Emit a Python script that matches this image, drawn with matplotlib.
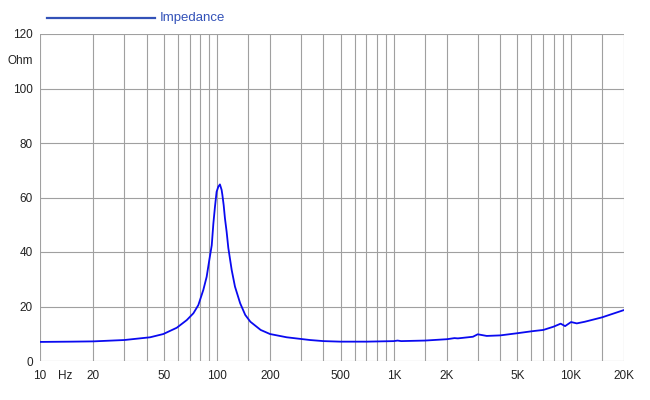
import numpy as np
import matplotlib.pyplot as plt
from matplotlib.lines import Line2D
import matplotlib.transforms as mtransforms

plt.rcParams['font.family'] = ['Liberation Sans', 'DejaVu Sans']

# impedance curve
freq = [10, 15, 20, 30, 41.9, 49.8, 59.3, 67.5, 73.6, 78.5, 83.8, 87.5,
        90.6, 93.5, 95.5, 97.5, 99.6, 101.9, 104, 106.3, 107.4, 109.2, 111,
        113.5, 116, 121.2, 126.5, 135.3, 144.6, 154.6, 176.7, 199.6, 248,
        335.6, 400, 500, 700, 1000, 1050, 1100, 1500, 2000, 2200, 2300, 2800,
        2980, 3350, 4000, 5000, 6000, 7000, 8000, 8770, 9290, 10040, 10820,
        12000, 15000, 20000]
ohm = [7.0, 7.1, 7.2, 7.7, 8.7, 9.9, 12.2, 15.0, 17.5, 20.5, 26.1, 30.9,
       37.1, 42.5, 50.5, 56.6, 62.1, 64.0, 64.8, 62.8, 60.9, 57.2, 52.4,
       47.4, 41.5, 33.4, 27.3, 21.2, 16.9, 14.4, 11.4, 9.9, 8.7, 7.7, 7.3,
       7.1, 7.1, 7.3, 7.5, 7.3, 7.5, 8.0, 8.4, 8.3, 8.9, 9.8, 9.2, 9.4, 10.2,
       10.9, 11.4, 12.6, 13.7, 12.8, 14.3, 13.8, 14.4, 16.0, 18.7]

grid_freqs = [10, 20, 30, 40, 50, 60, 70, 80, 90, 100, 150, 200, 300, 400,
              500, 600, 700, 800, 900, 1000, 1500, 2000, 3000, 4000, 5000,
              6000, 7000, 8000, 9000, 10000, 15000, 20000]
labelled = {10: '10', 20: '20', 50: '50', 100: '100', 200: '200', 500: '500',
            1000: '1K', 2000: '2K', 5000: '5K', 10000: '10K', 20000: '20K'}
y_ticks = [0, 20, 40, 60, 80, 100, 120]

fig = plt.figure(figsize=(6.5, 4), dpi=100)
ax = fig.add_axes([40 / 650, 1 - 361 / 400, 584 / 650, 327 / 400])

ax.plot(freq, ohm, color='#0a0af0', lw=1.3, zorder=3)

ax.set_xscale('log')
ax.set_xlim(10, 20000)
ax.set_ylim(0, 120)
ax.set_xticks(grid_freqs)
ax.set_xticklabels([labelled.get(f, '') for f in grid_freqs])
ax.xaxis.set_minor_locator(plt.NullLocator())
ax.set_yticks(y_ticks)
ax.tick_params(length=0, labelsize=8.5, colors='#222222')
ax.tick_params(axis='x', pad=6.5)
ax.tick_params(axis='y', pad=5)
ax.grid(True, color='#a0a0a0', lw=0.8)
for s in ax.spines.values():
    s.set_visible(False)

# "Hz" and "Ohm" unit labels
trans = mtransforms.blended_transform_factory(ax.transData, ax.transAxes)
ax.text(13.8, -0.045, 'Hz', transform=trans, ha='center', va='center',
        fontsize=8.5, color='#222222')
ax.text(-0.012, 110, 'Ohm', transform=mtransforms.blended_transform_factory(ax.transAxes, ax.transData),
        ha='right', va='center', fontsize=8.5, color='#222222')

# legend at top
fig.add_artist(Line2D([47 / 650, 155 / 650], [1 - 18 / 400] * 2,
                      color='#3352b8', lw=1.6, transform=fig.transFigure))
fig.text(160 / 650, 1 - 18 / 400, 'Impedance', color='#3352b8', fontsize=9.5,
         ha='left', va='center')

fig.savefig('out.png', dpi=100)
